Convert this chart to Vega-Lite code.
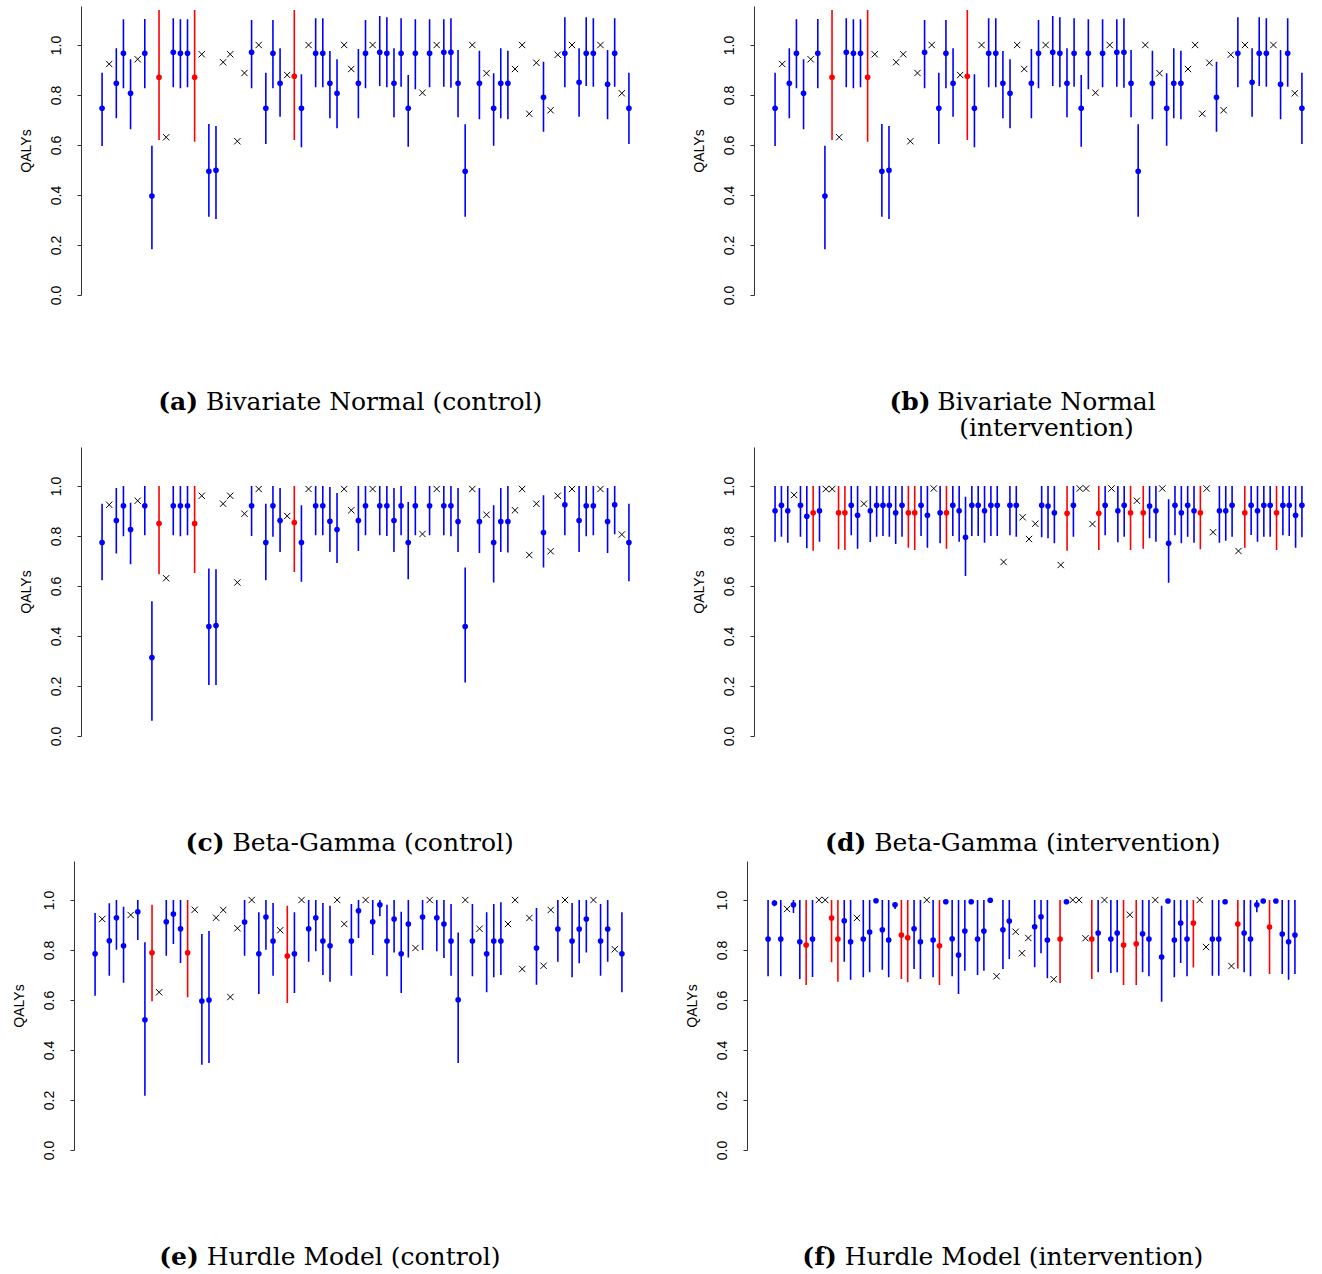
{
"$schema": "https://vega.github.io/schema/vega-lite/v6.json",
"background": "white",
"padding": {"left": 12, "top": 6, "right": 0, "bottom": 0},
"columns": 2,
"bounds": "flush",
"spacing": {"row": 152, "column": 104},
"config": {
  "view": {"stroke": null},
  "axis": {"grid": false, "labelFont": "Liberation Sans", "titleFont": "Liberation Sans", "labelFontSize": 14, "titleFontSize": 14, "titleFontWeight": "normal", "labelColor": "#000", "titleColor": "#000", "domainColor": "#333", "tickColor": "#333", "tickSize": 4, "labelPadding": 14, "titlePadding": 15},
  "axisY": {"labelAngle": 270, "labelAlign": "center", "labelBaseline": "bottom", "minExtent": 33, "maxExtent": 33},
  "axisX": {"domain": false, "ticks": false, "labels": false, "minExtent": 0, "maxExtent": 0, "titlePadding": 0, "titleFont": "DejaVu Serif", "titleFontSize": 25, "titleColor": "#000", "titleBaseline": "alphabetic", "titleAngle": 0, "titleLineHeight": 26}
},
"datasets": {
"A": [
{"i":0,"t":"e","v":0.747,"lo":0.596,"hi":0.889,"g":"b"},
{"i":1,"t":"o","v":0.924},
{"i":2,"t":"e","v":0.847,"lo":0.707,"hi":0.987,"g":"b"},
{"i":3,"t":"e","v":0.967,"lo":0.827,"hi":1.103,"g":"b"},
{"i":4,"t":"e","v":0.807,"lo":0.663,"hi":0.943,"g":"b"},
{"i":5,"t":"o","v":0.943},
{"i":6,"t":"e","v":0.967,"lo":0.827,"hi":1.104,"g":"b"},
{"i":7,"t":"e","v":0.396,"lo":0.183,"hi":0.597,"g":"b"},
{"i":8,"t":"e","v":0.871,"lo":0.62,"hi":1.14,"g":"r"},
{"i":9,"t":"o","v":0.631},
{"i":10,"t":"e","v":0.971,"lo":0.831,"hi":1.107,"g":"b"},
{"i":11,"t":"e","v":0.967,"lo":0.827,"hi":1.103,"g":"b"},
{"i":12,"t":"e","v":0.967,"lo":0.831,"hi":1.103,"g":"b"},
{"i":13,"t":"e","v":0.871,"lo":0.613,"hi":1.14,"g":"r"},
{"i":14,"t":"o","v":0.963},
{"i":15,"t":"e","v":0.495,"lo":0.313,"hi":0.684,"g":"b"},
{"i":16,"t":"e","v":0.499,"lo":0.304,"hi":0.676,"g":"b"},
{"i":17,"t":"o","v":0.931},
{"i":18,"t":"o","v":0.963},
{"i":19,"t":"o","v":0.615},
{"i":20,"t":"o","v":0.888},
{"i":21,"t":"e","v":0.971,"lo":0.827,"hi":1.1,"g":"b"},
{"i":22,"t":"o","v":1.0},
{"i":23,"t":"e","v":0.747,"lo":0.604,"hi":0.889,"g":"b"},
{"i":24,"t":"e","v":0.967,"lo":0.827,"hi":1.1,"g":"b"},
{"i":25,"t":"e","v":0.847,"lo":0.713,"hi":0.987,"g":"b"},
{"i":26,"t":"o","v":0.88},
{"i":27,"t":"e","v":0.875,"lo":0.62,"hi":1.14,"g":"r"},
{"i":28,"t":"e","v":0.747,"lo":0.591,"hi":0.883,"g":"b"},
{"i":29,"t":"o","v":1.0},
{"i":30,"t":"e","v":0.967,"lo":0.831,"hi":1.107,"g":"b"},
{"i":31,"t":"e","v":0.967,"lo":0.831,"hi":1.107,"g":"b"},
{"i":32,"t":"e","v":0.847,"lo":0.707,"hi":0.976,"g":"b"},
{"i":33,"t":"e","v":0.807,"lo":0.667,"hi":0.943,"g":"b"},
{"i":34,"t":"o","v":1.0},
{"i":35,"t":"o","v":0.904},
{"i":36,"t":"e","v":0.847,"lo":0.707,"hi":0.984,"g":"b"},
{"i":37,"t":"e","v":0.967,"lo":0.827,"hi":1.1,"g":"b"},
{"i":38,"t":"o","v":1.0},
{"i":39,"t":"e","v":0.971,"lo":0.836,"hi":1.116,"g":"b"},
{"i":40,"t":"e","v":0.967,"lo":0.831,"hi":1.111,"g":"b"},
{"i":41,"t":"e","v":0.847,"lo":0.711,"hi":0.987,"g":"b"},
{"i":42,"t":"e","v":0.967,"lo":0.833,"hi":1.107,"g":"b"},
{"i":43,"t":"e","v":0.747,"lo":0.593,"hi":0.88,"g":"b"},
{"i":44,"t":"e","v":0.967,"lo":0.823,"hi":1.103,"g":"b"},
{"i":45,"t":"o","v":0.809},
{"i":46,"t":"e","v":0.967,"lo":0.831,"hi":1.103,"g":"b"},
{"i":47,"t":"o","v":1.0},
{"i":48,"t":"e","v":0.971,"lo":0.833,"hi":1.103,"g":"b"},
{"i":49,"t":"e","v":0.971,"lo":0.829,"hi":1.107,"g":"b"},
{"i":50,"t":"e","v":0.847,"lo":0.711,"hi":0.98,"g":"b"},
{"i":51,"t":"e","v":0.495,"lo":0.313,"hi":0.683,"g":"b"},
{"i":52,"t":"o","v":1.0},
{"i":53,"t":"e","v":0.847,"lo":0.703,"hi":0.977,"g":"b"},
{"i":54,"t":"o","v":0.887},
{"i":55,"t":"e","v":0.747,"lo":0.597,"hi":0.887,"g":"b"},
{"i":56,"t":"e","v":0.847,"lo":0.707,"hi":0.987,"g":"b"},
{"i":57,"t":"e","v":0.847,"lo":0.703,"hi":0.977,"g":"b"},
{"i":58,"t":"o","v":0.904},
{"i":59,"t":"o","v":1.0},
{"i":60,"t":"o","v":0.725},
{"i":61,"t":"o","v":0.929},
{"i":62,"t":"e","v":0.791,"lo":0.653,"hi":0.933,"g":"b"},
{"i":63,"t":"o","v":0.739},
{"i":64,"t":"o","v":0.961},
{"i":65,"t":"e","v":0.967,"lo":0.831,"hi":1.111,"g":"b"},
{"i":66,"t":"o","v":1.0},
{"i":67,"t":"e","v":0.851,"lo":0.713,"hi":0.987,"g":"b"},
{"i":68,"t":"e","v":0.967,"lo":0.836,"hi":1.111,"g":"b"},
{"i":69,"t":"e","v":0.967,"lo":0.833,"hi":1.107,"g":"b"},
{"i":70,"t":"o","v":1.0},
{"i":71,"t":"e","v":0.843,"lo":0.703,"hi":0.98,"g":"b"},
{"i":72,"t":"e","v":0.967,"lo":0.833,"hi":1.107,"g":"b"},
{"i":73,"t":"o","v":0.807},
{"i":74,"t":"e","v":0.747,"lo":0.604,"hi":0.889,"g":"b"}
],
"C": [
{"i":0,"t":"e","v":0.774,"lo":0.623,"hi":0.929,"g":"b"},
{"i":1,"t":"o","v":0.925},
{"i":2,"t":"e","v":0.862,"lo":0.73,"hi":0.992,"g":"b"},
{"i":3,"t":"e","v":0.921,"lo":0.799,"hi":1.0,"g":"b"},
{"i":4,"t":"e","v":0.826,"lo":0.687,"hi":0.933,"g":"b"},
{"i":5,"t":"o","v":0.941},
{"i":6,"t":"e","v":0.921,"lo":0.803,"hi":1.0,"g":"b"},
{"i":7,"t":"e","v":0.314,"lo":0.061,"hi":0.539,"g":"b"},
{"i":8,"t":"e","v":0.85,"lo":0.647,"hi":1.0,"g":"r"},
{"i":9,"t":"o","v":0.631},
{"i":10,"t":"e","v":0.921,"lo":0.803,"hi":1.0,"g":"b"},
{"i":11,"t":"e","v":0.921,"lo":0.799,"hi":1.0,"g":"b"},
{"i":12,"t":"e","v":0.921,"lo":0.803,"hi":1.0,"g":"b"},
{"i":13,"t":"e","v":0.85,"lo":0.652,"hi":1.0,"g":"r"},
{"i":14,"t":"o","v":0.961},
{"i":15,"t":"e","v":0.438,"lo":0.204,"hi":0.67,"g":"b"},
{"i":16,"t":"e","v":0.442,"lo":0.204,"hi":0.667,"g":"b"},
{"i":17,"t":"o","v":0.929},
{"i":18,"t":"o","v":0.961},
{"i":19,"t":"o","v":0.614},
{"i":20,"t":"o","v":0.889},
{"i":21,"t":"e","v":0.921,"lo":0.8,"hi":1.0,"g":"b"},
{"i":22,"t":"o","v":0.988},
{"i":23,"t":"e","v":0.774,"lo":0.623,"hi":0.929,"g":"b"},
{"i":24,"t":"e","v":0.921,"lo":0.797,"hi":1.0,"g":"b"},
{"i":25,"t":"e","v":0.862,"lo":0.736,"hi":0.992,"g":"b"},
{"i":26,"t":"o","v":0.88},
{"i":27,"t":"e","v":0.854,"lo":0.656,"hi":1.0,"g":"r"},
{"i":28,"t":"e","v":0.774,"lo":0.617,"hi":0.923,"g":"b"},
{"i":29,"t":"o","v":0.988},
{"i":30,"t":"e","v":0.921,"lo":0.803,"hi":1.0,"g":"b"},
{"i":31,"t":"e","v":0.921,"lo":0.803,"hi":1.0,"g":"b"},
{"i":32,"t":"e","v":0.859,"lo":0.736,"hi":0.996,"g":"b"},
{"i":33,"t":"e","v":0.826,"lo":0.692,"hi":0.972,"g":"b"},
{"i":34,"t":"o","v":0.988},
{"i":35,"t":"o","v":0.903},
{"i":36,"t":"e","v":0.862,"lo":0.74,"hi":1.0,"g":"b"},
{"i":37,"t":"e","v":0.921,"lo":0.803,"hi":1.0,"g":"b"},
{"i":38,"t":"o","v":0.988},
{"i":39,"t":"e","v":0.921,"lo":0.803,"hi":1.0,"g":"b"},
{"i":40,"t":"e","v":0.921,"lo":0.8,"hi":1.0,"g":"b"},
{"i":41,"t":"e","v":0.862,"lo":0.736,"hi":0.992,"g":"b"},
{"i":42,"t":"e","v":0.921,"lo":0.803,"hi":1.0,"g":"b"},
{"i":43,"t":"e","v":0.774,"lo":0.627,"hi":0.936,"g":"b"},
{"i":44,"t":"e","v":0.921,"lo":0.803,"hi":1.0,"g":"b"},
{"i":45,"t":"o","v":0.808},
{"i":46,"t":"e","v":0.921,"lo":0.803,"hi":1.0,"g":"b"},
{"i":47,"t":"o","v":0.988},
{"i":48,"t":"e","v":0.921,"lo":0.803,"hi":1.0,"g":"b"},
{"i":49,"t":"e","v":0.921,"lo":0.799,"hi":1.0,"g":"b"},
{"i":50,"t":"e","v":0.858,"lo":0.736,"hi":0.992,"g":"b"},
{"i":51,"t":"e","v":0.438,"lo":0.214,"hi":0.674,"g":"b"},
{"i":52,"t":"o","v":0.988},
{"i":53,"t":"e","v":0.858,"lo":0.732,"hi":0.992,"g":"b"},
{"i":54,"t":"o","v":0.885},
{"i":55,"t":"e","v":0.774,"lo":0.614,"hi":0.923,"g":"b"},
{"i":56,"t":"e","v":0.858,"lo":0.736,"hi":0.992,"g":"b"},
{"i":57,"t":"e","v":0.858,"lo":0.734,"hi":1.0,"g":"b"},
{"i":58,"t":"o","v":0.903},
{"i":59,"t":"o","v":0.988},
{"i":60,"t":"o","v":0.724},
{"i":61,"t":"o","v":0.929},
{"i":62,"t":"e","v":0.814,"lo":0.674,"hi":0.963,"g":"b"},
{"i":63,"t":"o","v":0.739},
{"i":64,"t":"o","v":0.961},
{"i":65,"t":"e","v":0.925,"lo":0.803,"hi":1.0,"g":"b"},
{"i":66,"t":"o","v":0.988},
{"i":67,"t":"e","v":0.862,"lo":0.736,"hi":1.0,"g":"b"},
{"i":68,"t":"e","v":0.921,"lo":0.799,"hi":1.0,"g":"b"},
{"i":69,"t":"e","v":0.921,"lo":0.803,"hi":1.0,"g":"b"},
{"i":70,"t":"o","v":0.988},
{"i":71,"t":"e","v":0.858,"lo":0.732,"hi":0.992,"g":"b"},
{"i":72,"t":"e","v":0.925,"lo":0.807,"hi":1.0,"g":"b"},
{"i":73,"t":"o","v":0.806},
{"i":74,"t":"e","v":0.774,"lo":0.619,"hi":0.929,"g":"b"}
],
"E": [
{"i":0,"t":"e","v":0.785,"lo":0.617,"hi":0.948,"g":"b"},
{"i":1,"t":"o","v":0.924},
{"i":2,"t":"e","v":0.837,"lo":0.697,"hi":0.987,"g":"b"},
{"i":3,"t":"e","v":0.929,"lo":0.801,"hi":1.0,"g":"b"},
{"i":4,"t":"e","v":0.817,"lo":0.669,"hi":0.973,"g":"b"},
{"i":5,"t":"o","v":0.94},
{"i":6,"t":"e","v":0.953,"lo":0.84,"hi":1.0,"g":"b"},
{"i":7,"t":"e","v":0.521,"lo":0.217,"hi":0.831,"g":"b"},
{"i":8,"t":"e","v":0.789,"lo":0.595,"hi":0.981,"g":"r"},
{"i":9,"t":"o","v":0.631},
{"i":10,"t":"e","v":0.913,"lo":0.777,"hi":1.0,"g":"b"},
{"i":11,"t":"e","v":0.944,"lo":0.824,"hi":1.0,"g":"b"},
{"i":12,"t":"e","v":0.885,"lo":0.748,"hi":1.0,"g":"b"},
{"i":13,"t":"e","v":0.789,"lo":0.611,"hi":1.0,"g":"r"},
{"i":14,"t":"o","v":0.961},
{"i":15,"t":"e","v":0.596,"lo":0.341,"hi":0.864,"g":"b"},
{"i":16,"t":"e","v":0.6,"lo":0.348,"hi":0.876,"g":"b"},
{"i":17,"t":"o","v":0.929},
{"i":18,"t":"o","v":0.96},
{"i":19,"t":"o","v":0.612},
{"i":20,"t":"o","v":0.887},
{"i":21,"t":"e","v":0.912,"lo":0.777,"hi":1.0,"g":"b"},
{"i":22,"t":"o","v":1.0},
{"i":23,"t":"e","v":0.785,"lo":0.624,"hi":0.951,"g":"b"},
{"i":24,"t":"e","v":0.932,"lo":0.801,"hi":1.0,"g":"b"},
{"i":25,"t":"e","v":0.836,"lo":0.697,"hi":0.988,"g":"b"},
{"i":26,"t":"o","v":0.879},
{"i":27,"t":"e","v":0.776,"lo":0.588,"hi":0.977,"g":"r"},
{"i":28,"t":"e","v":0.785,"lo":0.628,"hi":0.951,"g":"b"},
{"i":29,"t":"o","v":1.0},
{"i":30,"t":"e","v":0.885,"lo":0.753,"hi":1.0,"g":"b"},
{"i":31,"t":"e","v":0.929,"lo":0.795,"hi":1.0,"g":"b"},
{"i":32,"t":"e","v":0.836,"lo":0.7,"hi":0.988,"g":"b"},
{"i":33,"t":"e","v":0.817,"lo":0.673,"hi":0.977,"g":"b"},
{"i":34,"t":"o","v":1.0},
{"i":35,"t":"o","v":0.904},
{"i":36,"t":"e","v":0.836,"lo":0.697,"hi":0.984,"g":"b"},
{"i":37,"t":"e","v":0.957,"lo":0.848,"hi":1.0,"g":"b"},
{"i":38,"t":"o","v":1.0},
{"i":39,"t":"e","v":0.913,"lo":0.78,"hi":1.0,"g":"b"},
{"i":40,"t":"e","v":0.981,"lo":0.935,"hi":1.0,"g":"b"},
{"i":41,"t":"e","v":0.836,"lo":0.695,"hi":0.981,"g":"b"},
{"i":42,"t":"e","v":0.924,"lo":0.79,"hi":1.0,"g":"b"},
{"i":43,"t":"e","v":0.785,"lo":0.628,"hi":0.953,"g":"b"},
{"i":44,"t":"e","v":0.904,"lo":0.77,"hi":1.0,"g":"b"},
{"i":45,"t":"o","v":0.808},
{"i":46,"t":"e","v":0.932,"lo":0.8,"hi":1.0,"g":"b"},
{"i":47,"t":"o","v":1.0},
{"i":48,"t":"e","v":0.929,"lo":0.795,"hi":1.0,"g":"b"},
{"i":49,"t":"e","v":0.904,"lo":0.768,"hi":1.0,"g":"b"},
{"i":50,"t":"e","v":0.836,"lo":0.697,"hi":0.984,"g":"b"},
{"i":51,"t":"e","v":0.601,"lo":0.348,"hi":0.87,"g":"b"},
{"i":52,"t":"o","v":1.0},
{"i":53,"t":"e","v":0.836,"lo":0.695,"hi":0.984,"g":"b"},
{"i":54,"t":"o","v":0.885},
{"i":55,"t":"e","v":0.785,"lo":0.631,"hi":0.951,"g":"b"},
{"i":56,"t":"e","v":0.836,"lo":0.691,"hi":0.984,"g":"b"},
{"i":57,"t":"e","v":0.836,"lo":0.7,"hi":0.991,"g":"b"},
{"i":58,"t":"o","v":0.904},
{"i":59,"t":"o","v":1.0},
{"i":60,"t":"o","v":0.724},
{"i":61,"t":"o","v":0.928},
{"i":62,"t":"e","v":0.808,"lo":0.661,"hi":0.968,"g":"b"},
{"i":63,"t":"o","v":0.737},
{"i":64,"t":"o","v":0.96},
{"i":65,"t":"e","v":0.884,"lo":0.753,"hi":1.0,"g":"b"},
{"i":66,"t":"o","v":1.0},
{"i":67,"t":"e","v":0.836,"lo":0.691,"hi":0.988,"g":"b"},
{"i":68,"t":"e","v":0.884,"lo":0.747,"hi":1.0,"g":"b"},
{"i":69,"t":"e","v":0.924,"lo":0.79,"hi":1.0,"g":"b"},
{"i":70,"t":"o","v":1.0},
{"i":71,"t":"e","v":0.836,"lo":0.697,"hi":0.984,"g":"b"},
{"i":72,"t":"e","v":0.884,"lo":0.753,"hi":1.0,"g":"b"},
{"i":73,"t":"o","v":0.803},
{"i":74,"t":"e","v":0.785,"lo":0.631,"hi":0.951,"g":"b"}
],
"D": [
{"i":0,"t":"e","v":0.901,"lo":0.777,"hi":1,"g":"b"},
{"i":1,"t":"e","v":0.923,"lo":0.797,"hi":1,"g":"b"},
{"i":2,"t":"e","v":0.901,"lo":0.773,"hi":1,"g":"b"},
{"i":3,"t":"o","v":0.964},
{"i":4,"t":"e","v":0.923,"lo":0.797,"hi":1,"g":"b"},
{"i":5,"t":"e","v":0.879,"lo":0.751,"hi":1,"g":"b"},
{"i":6,"t":"e","v":0.893,"lo":0.741,"hi":1,"g":"r"},
{"i":7,"t":"e","v":0.901,"lo":0.777,"hi":1,"g":"b"},
{"i":8,"t":"o","v":0.988},
{"i":9,"t":"o","v":0.988},
{"i":10,"t":"e","v":0.893,"lo":0.747,"hi":1,"g":"r"},
{"i":11,"t":"e","v":0.893,"lo":0.744,"hi":1,"g":"r"},
{"i":12,"t":"e","v":0.923,"lo":0.803,"hi":1,"g":"b"},
{"i":13,"t":"e","v":0.883,"lo":0.749,"hi":1,"g":"b"},
{"i":14,"t":"o","v":0.929},
{"i":15,"t":"e","v":0.901,"lo":0.776,"hi":1,"g":"b"},
{"i":16,"t":"e","v":0.923,"lo":0.797,"hi":1,"g":"b"},
{"i":17,"t":"e","v":0.923,"lo":0.8,"hi":1,"g":"b"},
{"i":18,"t":"e","v":0.923,"lo":0.797,"hi":1,"g":"b"},
{"i":19,"t":"e","v":0.893,"lo":0.768,"hi":1,"g":"b"},
{"i":20,"t":"e","v":0.923,"lo":0.797,"hi":1,"g":"b"},
{"i":21,"t":"e","v":0.893,"lo":0.753,"hi":1,"g":"r"},
{"i":22,"t":"e","v":0.893,"lo":0.744,"hi":1,"g":"r"},
{"i":23,"t":"e","v":0.923,"lo":0.8,"hi":1,"g":"b"},
{"i":24,"t":"e","v":0.883,"lo":0.753,"hi":1,"g":"b"},
{"i":25,"t":"o","v":0.99},
{"i":26,"t":"e","v":0.893,"lo":0.771,"hi":1,"g":"b"},
{"i":27,"t":"e","v":0.893,"lo":0.749,"hi":1,"g":"r"},
{"i":28,"t":"e","v":0.923,"lo":0.8,"hi":1,"g":"b"},
{"i":29,"t":"e","v":0.901,"lo":0.777,"hi":1,"g":"b"},
{"i":30,"t":"e","v":0.795,"lo":0.64,"hi":0.957,"g":"b"},
{"i":31,"t":"e","v":0.923,"lo":0.8,"hi":1,"g":"b"},
{"i":32,"t":"e","v":0.923,"lo":0.8,"hi":1,"g":"b"},
{"i":33,"t":"e","v":0.901,"lo":0.773,"hi":1,"g":"b"},
{"i":34,"t":"e","v":0.923,"lo":0.8,"hi":1,"g":"b"},
{"i":35,"t":"e","v":0.923,"lo":0.8,"hi":1,"g":"b"},
{"i":36,"t":"o","v":0.696},
{"i":37,"t":"e","v":0.923,"lo":0.803,"hi":1,"g":"b"},
{"i":38,"t":"e","v":0.923,"lo":0.797,"hi":1,"g":"b"},
{"i":39,"t":"o","v":0.875},
{"i":40,"t":"o","v":0.788},
{"i":41,"t":"o","v":0.849},
{"i":42,"t":"e","v":0.923,"lo":0.795,"hi":1,"g":"b"},
{"i":43,"t":"e","v":0.92,"lo":0.791,"hi":1,"g":"b"},
{"i":44,"t":"e","v":0.893,"lo":0.771,"hi":1,"g":"b"},
{"i":45,"t":"o","v":0.684},
{"i":46,"t":"e","v":0.891,"lo":0.741,"hi":1,"g":"r"},
{"i":47,"t":"e","v":0.923,"lo":0.797,"hi":1,"g":"b"},
{"i":48,"t":"o","v":0.99},
{"i":49,"t":"o","v":0.99},
{"i":50,"t":"o","v":0.848},
{"i":51,"t":"e","v":0.891,"lo":0.744,"hi":1,"g":"r"},
{"i":52,"t":"e","v":0.923,"lo":0.803,"hi":1,"g":"b"},
{"i":53,"t":"o","v":0.99},
{"i":54,"t":"e","v":0.901,"lo":0.775,"hi":1,"g":"b"},
{"i":55,"t":"e","v":0.923,"lo":0.797,"hi":1,"g":"b"},
{"i":56,"t":"e","v":0.893,"lo":0.744,"hi":1,"g":"r"},
{"i":57,"t":"o","v":0.941},
{"i":58,"t":"e","v":0.893,"lo":0.749,"hi":1,"g":"r"},
{"i":59,"t":"e","v":0.92,"lo":0.791,"hi":1,"g":"b"},
{"i":60,"t":"e","v":0.901,"lo":0.777,"hi":1,"g":"b"},
{"i":61,"t":"o","v":0.99},
{"i":62,"t":"e","v":0.771,"lo":0.613,"hi":0.947,"g":"b"},
{"i":63,"t":"e","v":0.923,"lo":0.803,"hi":1,"g":"b"},
{"i":64,"t":"e","v":0.893,"lo":0.771,"hi":1,"g":"b"},
{"i":65,"t":"e","v":0.923,"lo":0.797,"hi":1,"g":"b"},
{"i":66,"t":"e","v":0.901,"lo":0.773,"hi":1,"g":"b"},
{"i":67,"t":"e","v":0.893,"lo":0.747,"hi":1,"g":"r"},
{"i":68,"t":"o","v":0.99},
{"i":69,"t":"o","v":0.815},
{"i":70,"t":"e","v":0.901,"lo":0.773,"hi":1,"g":"b"},
{"i":71,"t":"e","v":0.901,"lo":0.781,"hi":1,"g":"b"},
{"i":72,"t":"e","v":0.923,"lo":0.797,"hi":1,"g":"b"},
{"i":73,"t":"o","v":0.74},
{"i":74,"t":"e","v":0.893,"lo":0.753,"hi":1,"g":"r"},
{"i":75,"t":"e","v":0.923,"lo":0.804,"hi":1,"g":"b"},
{"i":76,"t":"e","v":0.901,"lo":0.777,"hi":1,"g":"b"},
{"i":77,"t":"e","v":0.923,"lo":0.797,"hi":1,"g":"b"},
{"i":78,"t":"e","v":0.923,"lo":0.797,"hi":1,"g":"b"},
{"i":79,"t":"e","v":0.893,"lo":0.744,"hi":1,"g":"r"},
{"i":80,"t":"e","v":0.923,"lo":0.803,"hi":1,"g":"b"},
{"i":81,"t":"e","v":0.923,"lo":0.8,"hi":1,"g":"b"},
{"i":82,"t":"e","v":0.883,"lo":0.753,"hi":1,"g":"b"},
{"i":83,"t":"e","v":0.923,"lo":0.795,"hi":1,"g":"b"}
],
"F": [
{"i":0,"t":"e","v":0.844,"lo":0.695,"hi":1,"g":"b"},
{"i":1,"t":"e","v":0.988,"lo":0.975,"hi":1,"g":"b"},
{"i":2,"t":"e","v":0.844,"lo":0.695,"hi":1,"g":"b"},
{"i":3,"t":"o","v":0.964},
{"i":4,"t":"e","v":0.981,"lo":0.948,"hi":1,"g":"b"},
{"i":5,"t":"e","v":0.833,"lo":0.684,"hi":1,"g":"b"},
{"i":6,"t":"e","v":0.82,"lo":0.66,"hi":1,"g":"r"},
{"i":7,"t":"e","v":0.844,"lo":0.692,"hi":1,"g":"b"},
{"i":8,"t":"o","v":1.0},
{"i":9,"t":"o","v":1.0},
{"i":10,"t":"e","v":0.928,"lo":0.751,"hi":1,"g":"r"},
{"i":11,"t":"e","v":0.844,"lo":0.673,"hi":1,"g":"r"},
{"i":12,"t":"e","v":0.917,"lo":0.753,"hi":1,"g":"b"},
{"i":13,"t":"e","v":0.833,"lo":0.681,"hi":1,"g":"b"},
{"i":14,"t":"o","v":0.928},
{"i":15,"t":"e","v":0.844,"lo":0.691,"hi":1,"g":"b"},
{"i":16,"t":"e","v":0.872,"lo":0.711,"hi":1,"g":"b"},
{"i":17,"t":"e","v":0.997,"lo":0.99,"hi":1,"g":"b"},
{"i":18,"t":"e","v":0.881,"lo":0.721,"hi":1,"g":"b"},
{"i":19,"t":"e","v":0.84,"lo":0.691,"hi":1,"g":"b"},
{"i":20,"t":"e","v":0.981,"lo":0.964,"hi":0.991,"g":"b"},
{"i":21,"t":"e","v":0.86,"lo":0.684,"hi":1,"g":"r"},
{"i":22,"t":"e","v":0.849,"lo":0.671,"hi":1,"g":"r"},
{"i":23,"t":"e","v":0.885,"lo":0.724,"hi":1,"g":"b"},
{"i":24,"t":"e","v":0.833,"lo":0.684,"hi":1,"g":"b"},
{"i":25,"t":"o","v":1.0},
{"i":26,"t":"e","v":0.84,"lo":0.691,"hi":1,"g":"b"},
{"i":27,"t":"e","v":0.817,"lo":0.66,"hi":1,"g":"r"},
{"i":28,"t":"e","v":0.993,"lo":0.985,"hi":1,"g":"b"},
{"i":29,"t":"e","v":0.845,"lo":0.695,"hi":1,"g":"b"},
{"i":30,"t":"e","v":0.78,"lo":0.624,"hi":1,"g":"b"},
{"i":31,"t":"e","v":0.876,"lo":0.717,"hi":1,"g":"b"},
{"i":32,"t":"e","v":0.993,"lo":0.985,"hi":1,"g":"b"},
{"i":33,"t":"e","v":0.844,"lo":0.7,"hi":1,"g":"b"},
{"i":34,"t":"e","v":0.876,"lo":0.717,"hi":1,"g":"b"},
{"i":35,"t":"e","v":0.999,"lo":0.995,"hi":1,"g":"b"},
{"i":36,"t":"o","v":0.695},
{"i":37,"t":"e","v":0.881,"lo":0.724,"hi":1,"g":"b"},
{"i":38,"t":"e","v":0.916,"lo":0.764,"hi":1,"g":"b"},
{"i":39,"t":"o","v":0.873},
{"i":40,"t":"o","v":0.787},
{"i":41,"t":"o","v":0.848},
{"i":42,"t":"e","v":0.893,"lo":0.731,"hi":1,"g":"b"},
{"i":43,"t":"e","v":0.933,"lo":0.787,"hi":1,"g":"b"},
{"i":44,"t":"e","v":0.84,"lo":0.687,"hi":1,"g":"b"},
{"i":45,"t":"o","v":0.683},
{"i":46,"t":"e","v":0.844,"lo":0.668,"hi":1,"g":"r"},
{"i":47,"t":"e","v":0.993,"lo":0.985,"hi":1,"g":"b"},
{"i":48,"t":"o","v":1.0},
{"i":49,"t":"o","v":1.0},
{"i":50,"t":"o","v":0.847},
{"i":51,"t":"e","v":0.844,"lo":0.684,"hi":1,"g":"r"},
{"i":52,"t":"e","v":0.868,"lo":0.711,"hi":1,"g":"b"},
{"i":53,"t":"o","v":1.0},
{"i":54,"t":"e","v":0.844,"lo":0.708,"hi":1,"g":"b"},
{"i":55,"t":"e","v":0.868,"lo":0.711,"hi":1,"g":"b"},
{"i":56,"t":"e","v":0.82,"lo":0.66,"hi":1,"g":"r"},
{"i":57,"t":"o","v":0.941},
{"i":58,"t":"e","v":0.825,"lo":0.66,"hi":1,"g":"r"},
{"i":59,"t":"e","v":0.865,"lo":0.711,"hi":1,"g":"b"},
{"i":60,"t":"e","v":0.844,"lo":0.695,"hi":1,"g":"b"},
{"i":61,"t":"o","v":1.0},
{"i":62,"t":"e","v":0.772,"lo":0.593,"hi":0.977,"g":"b"},
{"i":63,"t":"e","v":0.996,"lo":0.99,"hi":1,"g":"b"},
{"i":64,"t":"e","v":0.84,"lo":0.691,"hi":1,"g":"b"},
{"i":65,"t":"e","v":0.908,"lo":0.748,"hi":1,"g":"b"},
{"i":66,"t":"e","v":0.844,"lo":0.695,"hi":1,"g":"b"},
{"i":67,"t":"e","v":0.908,"lo":0.73,"hi":1,"g":"r"},
{"i":68,"t":"o","v":1.0},
{"i":69,"t":"o","v":0.812},
{"i":70,"t":"e","v":0.844,"lo":0.697,"hi":1,"g":"b"},
{"i":71,"t":"e","v":0.844,"lo":0.697,"hi":1,"g":"b"},
{"i":72,"t":"e","v":0.993,"lo":0.985,"hi":1,"g":"b"},
{"i":73,"t":"o","v":0.736},
{"i":74,"t":"e","v":0.904,"lo":0.726,"hi":1,"g":"r"},
{"i":75,"t":"e","v":0.868,"lo":0.711,"hi":1,"g":"b"},
{"i":76,"t":"e","v":0.844,"lo":0.695,"hi":1,"g":"b"},
{"i":77,"t":"e","v":0.981,"lo":0.951,"hi":1,"g":"b"},
{"i":78,"t":"e","v":0.996,"lo":0.99,"hi":1,"g":"b"},
{"i":79,"t":"e","v":0.892,"lo":0.704,"hi":1,"g":"r"},
{"i":80,"t":"e","v":0.996,"lo":0.99,"hi":1,"g":"b"},
{"i":81,"t":"e","v":0.864,"lo":0.704,"hi":1,"g":"b"},
{"i":82,"t":"e","v":0.833,"lo":0.681,"hi":1,"g":"b"},
{"i":83,"t":"e","v":0.86,"lo":0.704,"hi":1,"g":"b"}
]
},
"concat": [
{
 "width": 569, "height": 289,
 "data": {"name": "A"},
 "resolve": {"axis": {"x": "independent"}},
 "encoding": {
  "x": {"field": "i", "type": "quantitative", "scale": {"domain": [-2.96, 76.96], "nice": false, "zero": false}, "axis": null},
  "y": {"field": "v", "type": "quantitative", "scale": {"domain": [0, 1.156], "nice": false, "zero": false}, "axis": {"title": "QALYs", "values": [0, 0.2, 0.4, 0.6, 0.8, 1], "format": ".1f"}}
 },
 "layer": [
  {"transform": [{"filter": "datum.t === 'e'"}], "mark": {"type": "rule", "strokeWidth": 1.6}, "encoding": {"y": {"field": "lo", "type": "quantitative", "scale": {"domain": [0, 1.156], "nice": false, "zero": false}}, "y2": {"field": "hi"}, "color": {"field": "g", "type": "nominal", "scale": {"domain": ["b", "r"], "range": ["#0000ff", "#ff0000"]}, "legend": null}}},
  {"transform": [{"filter": "datum.t === 'e'"}], "mark": {"type": "circle", "size": 32, "opacity": 1}, "encoding": {"x": {"field": "i", "type": "quantitative", "scale": {"domain": [-2.96, 76.96], "nice": false, "zero": false}, "axis": {"orient": "bottom", "title": "(a)", "titleFontWeight": "bold", "titleAlign": "right", "titleX": 116.6, "titleY": 114}}, "color": {"field": "g", "type": "nominal", "scale": {"domain": ["b", "r"], "range": ["#0000ff", "#ff0000"]}, "legend": null}}},
  {"transform": [{"filter": "datum.t === 'o'"}], "mark": {"type": "point", "shape": "M-1,-1L1,1M-1,1L1,-1", "size": 40, "filled": false, "color": "black", "strokeWidth": 1, "opacity": 1}, "encoding": {"x": {"field": "i", "type": "quantitative", "scale": {"domain": [-2.96, 76.96], "nice": false, "zero": false}, "axis": {"orient": "top", "title": "Bivariate Normal (control)", "titleFontWeight": "normal", "titleAlign": "left", "titleX": 124.6, "titleY": 403}}}},
  {"data": {"values": [{}]}, "mark": {"type": "rule", "color": "black", "strokeWidth": 1}, "encoding": {"x": {"datum": -2.96}, "x2": {"datum": 76.96}, "y": {"datum": 1}}}
 ]
},
{
 "width": 569, "height": 289,
 "data": {"name": "A"},
 "resolve": {"axis": {"x": "independent"}},
 "encoding": {
  "x": {"field": "i", "type": "quantitative", "scale": {"domain": [-2.96, 76.96], "nice": false, "zero": false}, "axis": null},
  "y": {"field": "v", "type": "quantitative", "scale": {"domain": [0, 1.156], "nice": false, "zero": false}, "axis": {"title": "QALYs", "values": [0, 0.2, 0.4, 0.6, 0.8, 1], "format": ".1f"}}
 },
 "layer": [
  {"transform": [{"filter": "datum.t === 'e'"}], "mark": {"type": "rule", "strokeWidth": 1.6}, "encoding": {"y": {"field": "lo", "type": "quantitative", "scale": {"domain": [0, 1.156], "nice": false, "zero": false}}, "y2": {"field": "hi"}, "color": {"field": "g", "type": "nominal", "scale": {"domain": ["b", "r"], "range": ["#0000ff", "#ff0000"]}, "legend": null}}},
  {"transform": [{"filter": "datum.t === 'e'"}], "mark": {"type": "circle", "size": 32, "opacity": 1}, "encoding": {"x": {"field": "i", "type": "quantitative", "scale": {"domain": [-2.96, 76.96], "nice": false, "zero": false}, "axis": {"orient": "bottom", "title": "(b)", "titleFontWeight": "bold", "titleAlign": "right", "titleX": 176.1, "titleY": 114}}, "color": {"field": "g", "type": "nominal", "scale": {"domain": ["b", "r"], "range": ["#0000ff", "#ff0000"]}, "legend": null}}},
  {"transform": [{"filter": "datum.t === 'o'"}], "mark": {"type": "point", "shape": "M-1,-1L1,1M-1,1L1,-1", "size": 40, "filled": false, "color": "black", "strokeWidth": 1, "opacity": 1}, "encoding": {"x": {"field": "i", "type": "quantitative", "scale": {"domain": [-2.96, 76.96], "nice": false, "zero": false}, "axis": {"orient": "top", "title": ["Bivariate Normal", "(intervention)"], "titleFontWeight": "normal", "titleAlign": "center", "titleX": 292, "titleY": 403}}}},
  {"data": {"values": [{}]}, "mark": {"type": "rule", "color": "black", "strokeWidth": 1}, "encoding": {"x": {"datum": -2.96}, "x2": {"datum": 76.96}, "y": {"datum": 1}}}
 ]
},
{
 "width": 569, "height": 289,
 "data": {"name": "C"},
 "resolve": {"axis": {"x": "independent"}},
 "encoding": {
  "x": {"field": "i", "type": "quantitative", "scale": {"domain": [-2.96, 76.96], "nice": false, "zero": false}, "axis": null},
  "y": {"field": "v", "type": "quantitative", "scale": {"domain": [0, 1.156], "nice": false, "zero": false}, "axis": {"title": "QALYs", "values": [0, 0.2, 0.4, 0.6, 0.8, 1], "format": ".1f"}}
 },
 "layer": [
  {"transform": [{"filter": "datum.t === 'e'"}], "mark": {"type": "rule", "strokeWidth": 1.6}, "encoding": {"y": {"field": "lo", "type": "quantitative", "scale": {"domain": [0, 1.156], "nice": false, "zero": false}}, "y2": {"field": "hi"}, "color": {"field": "g", "type": "nominal", "scale": {"domain": ["b", "r"], "range": ["#0000ff", "#ff0000"]}, "legend": null}}},
  {"transform": [{"filter": "datum.t === 'e'"}], "mark": {"type": "circle", "size": 32, "opacity": 1}, "encoding": {"x": {"field": "i", "type": "quantitative", "scale": {"domain": [-2.96, 76.96], "nice": false, "zero": false}, "axis": {"orient": "bottom", "title": "(c)", "titleFontWeight": "bold", "titleAlign": "right", "titleX": 143, "titleY": 114}}, "color": {"field": "g", "type": "nominal", "scale": {"domain": ["b", "r"], "range": ["#0000ff", "#ff0000"]}, "legend": null}}},
  {"transform": [{"filter": "datum.t === 'o'"}], "mark": {"type": "point", "shape": "M-1,-1L1,1M-1,1L1,-1", "size": 40, "filled": false, "color": "black", "strokeWidth": 1, "opacity": 1}, "encoding": {"x": {"field": "i", "type": "quantitative", "scale": {"domain": [-2.96, 76.96], "nice": false, "zero": false}, "axis": {"orient": "top", "title": "Beta-Gamma (control)", "titleFontWeight": "normal", "titleAlign": "left", "titleX": 150.9, "titleY": 403}}}},
  {"data": {"values": [{}]}, "mark": {"type": "rule", "color": "#444444", "strokeWidth": 1.3}, "encoding": {"x": {"datum": -2.96}, "x2": {"datum": 76.96}, "y": {"datum": 1}}}
 ]
},
{
 "width": 569, "height": 289,
 "data": {"name": "D"},
 "resolve": {"axis": {"x": "independent"}},
 "encoding": {
  "x": {"field": "i", "type": "quantitative", "scale": {"domain": [-3.32, 86.32], "nice": false, "zero": false}, "axis": null},
  "y": {"field": "v", "type": "quantitative", "scale": {"domain": [0, 1.156], "nice": false, "zero": false}, "axis": {"title": "QALYs", "values": [0, 0.2, 0.4, 0.6, 0.8, 1], "format": ".1f"}}
 },
 "layer": [
  {"transform": [{"filter": "datum.t === 'e'"}], "mark": {"type": "rule", "strokeWidth": 1.6}, "encoding": {"y": {"field": "lo", "type": "quantitative", "scale": {"domain": [0, 1.156], "nice": false, "zero": false}}, "y2": {"field": "hi"}, "color": {"field": "g", "type": "nominal", "scale": {"domain": ["b", "r"], "range": ["#0000ff", "#ff0000"]}, "legend": null}}},
  {"transform": [{"filter": "datum.t === 'e'"}], "mark": {"type": "circle", "size": 32, "opacity": 1}, "encoding": {"x": {"field": "i", "type": "quantitative", "scale": {"domain": [-3.32, 86.32], "nice": false, "zero": false}, "axis": {"orient": "bottom", "title": "(d)", "titleFontWeight": "bold", "titleAlign": "right", "titleX": 111.75, "titleY": 114}}, "color": {"field": "g", "type": "nominal", "scale": {"domain": ["b", "r"], "range": ["#0000ff", "#ff0000"]}, "legend": null}}},
  {"transform": [{"filter": "datum.t === 'o'"}], "mark": {"type": "point", "shape": "M-1,-1L1,1M-1,1L1,-1", "size": 40, "filled": false, "color": "black", "strokeWidth": 1, "opacity": 1}, "encoding": {"x": {"field": "i", "type": "quantitative", "scale": {"domain": [-3.32, 86.32], "nice": false, "zero": false}, "axis": {"orient": "top", "title": "Beta-Gamma (intervention)", "titleFontWeight": "normal", "titleAlign": "left", "titleX": 119.7, "titleY": 403}}}},
  {"data": {"values": [{}]}, "mark": {"type": "rule", "color": "#444444", "strokeWidth": 1.3}, "encoding": {"x": {"datum": -3.32}, "x2": {"datum": 86.32}, "y": {"datum": 1}}}
 ]
},
{
 "width": 569, "height": 289,
 "data": {"name": "E"},
 "resolve": {"axis": {"x": "independent"}},
 "encoding": {
  "x": {"field": "i", "type": "quantitative", "scale": {"domain": [-2.96, 76.96], "range": [-7, 562], "nice": false, "zero": false}, "axis": null},
  "y": {"field": "v", "type": "quantitative", "scale": {"domain": [0, 1.156], "range": [262, -27], "nice": false, "zero": false}, "axis": {"title": "QALYs", "values": [0, 0.2, 0.4, 0.6, 0.8, 1], "format": ".1f", "offset": 7}}
 },
 "layer": [
  {"transform": [{"filter": "datum.t === 'e'"}], "mark": {"type": "rule", "strokeWidth": 1.6}, "encoding": {"y": {"field": "lo", "type": "quantitative", "scale": {"domain": [0, 1.156], "range": [262, -27], "nice": false, "zero": false}}, "y2": {"field": "hi"}, "color": {"field": "g", "type": "nominal", "scale": {"domain": ["b", "r"], "range": ["#0000ff", "#ff0000"]}, "legend": null}}},
  {"transform": [{"filter": "datum.t === 'e'"}], "mark": {"type": "circle", "size": 32, "opacity": 1}, "encoding": {"x": {"field": "i", "type": "quantitative", "scale": {"domain": [-2.96, 76.96], "range": [-7, 562], "nice": false, "zero": false}, "axis": {"orient": "bottom", "title": "(e)", "titleFontWeight": "bold", "titleAlign": "right", "titleX": 117.3, "titleY": 87}}, "color": {"field": "g", "type": "nominal", "scale": {"domain": ["b", "r"], "range": ["#0000ff", "#ff0000"]}, "legend": null}}},
  {"transform": [{"filter": "datum.t === 'o'"}], "mark": {"type": "point", "shape": "M-1,-1L1,1M-1,1L1,-1", "size": 40, "filled": false, "color": "black", "strokeWidth": 1, "opacity": 1}, "encoding": {"x": {"field": "i", "type": "quantitative", "scale": {"domain": [-2.96, 76.96], "range": [-7, 562], "nice": false, "zero": false}, "axis": {"orient": "top", "title": "Hurdle Model (control)", "titleFontWeight": "normal", "titleAlign": "left", "titleX": 125.3, "titleY": 376}}}},
  {"data": {"values": [{}]}, "mark": {"type": "rule", "color": "#808080", "strokeWidth": 1.6}, "encoding": {"x": {"datum": -2.96}, "x2": {"datum": 76.96}, "y": {"datum": 1}}}
 ]
},
{
 "width": 569, "height": 289,
 "data": {"name": "F"},
 "resolve": {"axis": {"x": "independent"}},
 "encoding": {
  "x": {"field": "i", "type": "quantitative", "scale": {"domain": [-3.32, 86.32], "range": [-7, 562], "nice": false, "zero": false}, "axis": null},
  "y": {"field": "v", "type": "quantitative", "scale": {"domain": [0, 1.156], "range": [262, -27], "nice": false, "zero": false}, "axis": {"title": "QALYs", "values": [0, 0.2, 0.4, 0.6, 0.8, 1], "format": ".1f", "offset": 7}}
 },
 "layer": [
  {"transform": [{"filter": "datum.t === 'e'"}], "mark": {"type": "rule", "strokeWidth": 1.6}, "encoding": {"y": {"field": "lo", "type": "quantitative", "scale": {"domain": [0, 1.156], "range": [262, -27], "nice": false, "zero": false}}, "y2": {"field": "hi"}, "color": {"field": "g", "type": "nominal", "scale": {"domain": ["b", "r"], "range": ["#0000ff", "#ff0000"]}, "legend": null}}},
  {"transform": [{"filter": "datum.t === 'e'"}], "mark": {"type": "circle", "size": 32, "opacity": 1}, "encoding": {"x": {"field": "i", "type": "quantitative", "scale": {"domain": [-3.32, 86.32], "range": [-7, 562], "nice": false, "zero": false}, "axis": {"orient": "bottom", "title": "(f)", "titleFontWeight": "bold", "titleAlign": "right", "titleX": 82.25, "titleY": 87}}, "color": {"field": "g", "type": "nominal", "scale": {"domain": ["b", "r"], "range": ["#0000ff", "#ff0000"]}, "legend": null}}},
  {"transform": [{"filter": "datum.t === 'o'"}], "mark": {"type": "point", "shape": "M-1,-1L1,1M-1,1L1,-1", "size": 40, "filled": false, "color": "black", "strokeWidth": 1, "opacity": 1}, "encoding": {"x": {"field": "i", "type": "quantitative", "scale": {"domain": [-3.32, 86.32], "range": [-7, 562], "nice": false, "zero": false}, "axis": {"orient": "top", "title": "Hurdle Model (intervention)", "titleFontWeight": "normal", "titleAlign": "left", "titleX": 90.2, "titleY": 376}}}},
  {"data": {"values": [{}]}, "mark": {"type": "rule", "color": "#808080", "strokeWidth": 1.6}, "encoding": {"x": {"datum": -3.32}, "x2": {"datum": 86.32}, "y": {"datum": 1}}}
 ]
}
]
}
